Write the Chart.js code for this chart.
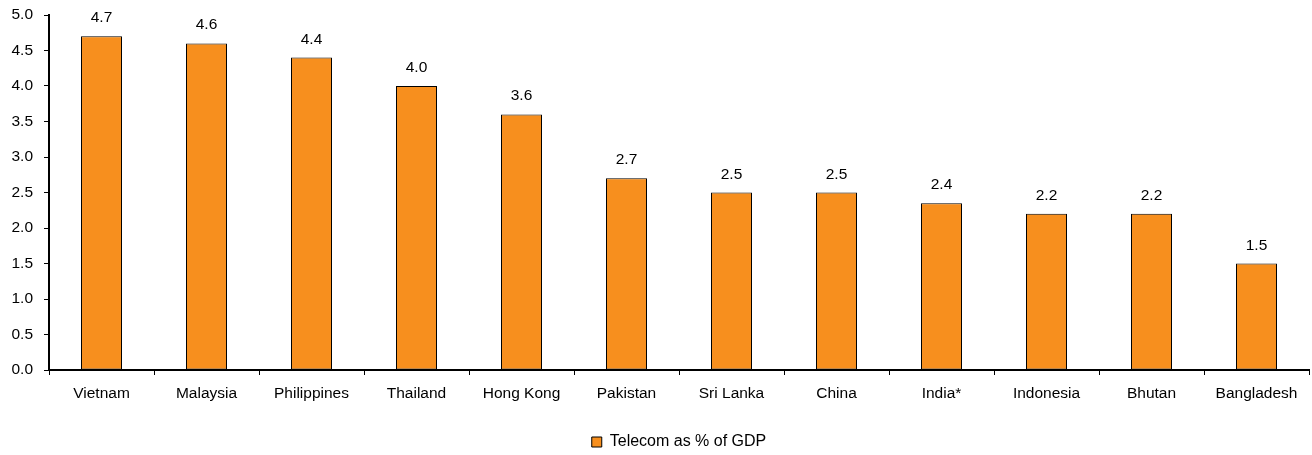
<!DOCTYPE html>
<html lang="en">
<head>
<meta charset="UTF-8">
<title>Telecom as % of GDP</title>
<script src="https://cdn.jsdelivr.net/npm/chart.js@4.4.1/dist/chart.umd.min.js"></script>
<style>
  html, body { margin: 0; padding: 0; background: #fff; }
  #wrap { width: 1312px; height: 455px; }
</style>
</head>
<body>
<div id="wrap"><canvas id="bar-chart" width="1312" height="455"></canvas></div>
<script>
const countries = ["Vietnam", "Malaysia", "Philippines", "Thailand", "Hong Kong", "Pakistan",
                   "Sri Lanka", "China", "India*", "Indonesia", "Bhutan", "Bangladesh"];
const telecomGdp = [4.7, 4.6, 4.4, 4.0, 3.6, 2.7, 2.5, 2.5, 2.35, 2.2, 2.2, 1.5];
const seriesName = "Telecom as % of GDP";

const FONT = "'Liberation Sans', Arial, sans-serif";

// values written above each bar
const barValues = {
    id: 'barValues',
    afterDatasetsDraw(chart) {
        const ctx = chart.ctx;
        const meta = chart.getDatasetMeta(0);
        ctx.save();
        ctx.font = "15.5px " + FONT;
        ctx.fillStyle = "#000";
        ctx.textAlign = "center";
        ctx.textBaseline = "alphabetic";
        meta.data.forEach((bar, i) => {
            ctx.fillText(telecomGdp[i].toFixed(1), bar.x, bar.y - 14);
        });
        ctx.restore();
    }
};

new Chart(document.getElementById("bar-chart"), {
    type: 'bar',
    data: {
        labels: countries,
        datasets: [{
            label: seriesName,
            data: telecomGdp,
            backgroundColor: "#F78F1E",
            borderColor: "#000",
            borderWidth: 1,
            borderSkipped: false,
            barPercentage: 0.3905,
            categoryPercentage: 1.0
        }]
    },
    options: {
        responsive: false,
        animation: false,
        layout: { padding: { left: 0, right: 3, top: 15, bottom: -5 } },
        plugins: {
            tooltip: { enabled: false },
            legend: {
                position: 'bottom',
                fullSize: false,
                labels: {
                    boxWidth: 10,
                    boxHeight: 10,
                    color: "#000",
                    padding: 5.5,
                    font: { family: FONT, size: 16 }
                }
            }
        },
        scales: {
            x: {
                grid: { display: true, drawOnChartArea: false, drawTicks: true, tickLength: 5, color: "#000", offset: true },
                border: { display: true, color: "#000", width: 2 },
                ticks: { color: "#000", padding: 9, maxRotation: 0, font: { family: FONT, size: 15.5 } },
                afterFit: s => { s.height = 58.5; }
            },
            y: {
                min: 0,
                max: 5,
                grid: { display: true, drawOnChartArea: false, drawTicks: true, tickLength: 5, color: "#000" },
                border: { display: true, color: "#000", width: 2 },
                ticks: {
                    stepSize: 0.5,
                    color: "#000",
                    padding: 11,
                    font: { family: FONT, size: 15.5 },
                    callback: v => Number(v).toFixed(1)
                },
                afterFit: s => { s.width = 49; s.paddingTop = 0; s.paddingBottom = 0; }
            }
        }
    },
    plugins: [barValues]
});
</script>
</body>
</html>
